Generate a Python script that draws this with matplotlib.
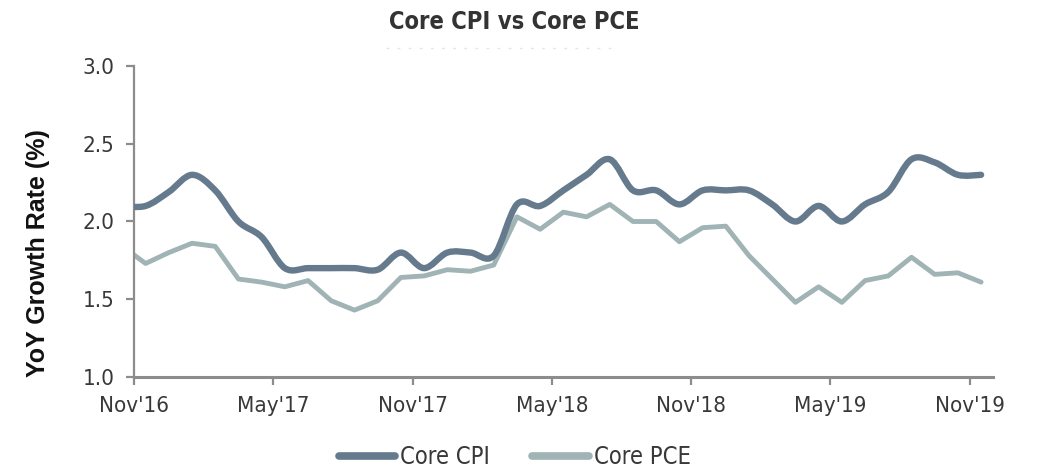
import numpy as np
import matplotlib
matplotlib.use("Agg")
import matplotlib.pyplot as plt
from matplotlib.path import Path
from matplotlib.patches import PathPatch
from matplotlib.lines import Line2D

# monthly values, Oct'16 .. Nov'19 (Oct'16 sits just left of the axis and is clipped)
core_cpi = [2.10, 2.10, 2.19, 2.30, 2.20, 2.00, 1.90, 1.70, 1.70, 1.70, 1.70, 1.69,
            1.80, 1.70, 1.80, 1.80, 1.78, 2.11, 2.10, 2.20, 2.30, 2.40, 2.20, 2.20,
            2.11, 2.20, 2.20, 2.20, 2.11, 2.00, 2.10, 2.00, 2.11, 2.19, 2.40, 2.38,
            2.30, 2.30]
core_pce = [1.84, 1.73, 1.80, 1.86, 1.84, 1.63, 1.61, 1.58, 1.62, 1.49, 1.43, 1.49,
            1.64, 1.65, 1.69, 1.68, 1.72, 2.03, 1.95, 2.06, 2.03, 2.11, 2.00, 2.00,
            1.87, 1.96, 1.97, 1.78, 1.63, 1.48, 1.58, 1.48, 1.62, 1.65, 1.77, 1.66,
            1.67, 1.61]
tick_labels = ["Nov'16", "May'17", "Nov'17", "May'18", "Nov'18", "May'19", "Nov'19"]
tick_months = [0, 6, 12, 18, 24, 30, 36]

cpi_color = '#657b8d'
pce_color = '#a0b4b6'
axis_color = '#8c8c8c'
fam = ['DejaVu Sans']

# points sit mid-month, ticks at the start of each month
x = np.arange(-1, len(core_cpi) - 1) + 0.5


def smooth_path(xs, ys):
    # Catmull-Rom style bezier through the points (like a "smoothed line")
    pts = np.column_stack([xs, ys])
    verts = [pts[0]]
    codes = [Path.MOVETO]
    n = len(pts)
    for i in range(n - 1):
        p0 = pts[i - 1] if i > 0 else pts[i]
        p1 = pts[i]
        p2 = pts[i + 1]
        p3 = pts[i + 2] if i + 2 < n else pts[i + 1]
        c1 = p1 + (p2 - p0) / 6.0
        c2 = p2 - (p3 - p1) / 6.0
        verts += [c1, c2, p2]
        codes += [Path.CURVE4] * 3
    return Path(verts, codes)


fig = plt.figure(figsize=(10.42, 4.71), dpi=100)
ax = fig.add_axes([0.1286, 0.1996, 0.8241, 0.6603])

cpi_patch = PathPatch(smooth_path(x, core_cpi), facecolor='none', edgecolor=cpi_color,
                      linewidth=4.6, capstyle='round', joinstyle='round', zorder=3)
ax.add_patch(cpi_patch)
ax.plot(x, core_pce, color=pce_color, linewidth=3.5, solid_capstyle='round',
        solid_joinstyle='round', zorder=2)

ax.set_xlim(0, 37)
ax.set_ylim(1.0, 3.0)
ax.set_yticks([1.0, 1.5, 2.0, 2.5, 3.0])
ax.set_yticklabels(['1.0', '1.5', '2.0', '2.5', '3.0'])
ax.set_xticks(tick_months)
ax.set_xticklabels(tick_labels)

for side in ['top', 'right']:
    ax.spines[side].set_visible(False)
ax.spines['left'].set_color(axis_color)
ax.spines['left'].set_linewidth(1.6)
ax.spines['bottom'].set_color(axis_color)
ax.spines['bottom'].set_linewidth(2.2)
ax.tick_params(axis='both', colors=axis_color, width=1.6, length=6, labelcolor='#383838')
ax.tick_params(axis='x', pad=8)
ax.tick_params(axis='y', pad=8)
for lab in ax.get_xticklabels() + ax.get_yticklabels():
    lab.set_family(fam)
    lab.set_stretch('condensed')
    lab.set_fontsize(16)

fig.text(0.494, 0.953, 'Core CPI vs Core PCE', ha='center', va='center',
         fontsize=17, fontweight='bold', fontstretch='condensed', color='#333333',
         family=fam)
fig.add_artist(Line2D([0.37, 0.59], [0.898, 0.898], transform=fig.transFigure,
                      color='#e6e6e6', linewidth=1, linestyle=(0, (2, 6))))

fig.text(0.036, 1 - 253 / 471, 'YoY Growth Rate (%)', rotation=90, ha='center',
         va='center', fontsize=18, fontweight='bold', color='#111111',
         family=['Liberation Sans', 'DejaVu Sans'])

handles = [Line2D([], [], color=cpi_color, linewidth=5.5, solid_capstyle='round'),
           Line2D([], [], color=pce_color, linewidth=5.5, solid_capstyle='round')]
fig.legend(handles, ['Core CPI', 'Core PCE'], loc='center', bbox_to_anchor=(0.494, 0.03),
           ncol=2, frameon=False, handlelength=2.4, handletextpad=0.2,
           columnspacing=1.8, prop={'family': fam, 'size': 17, 'stretch': 'condensed'},
           labelcolor='#383838')

fig.savefig('out.png', dpi=100)
